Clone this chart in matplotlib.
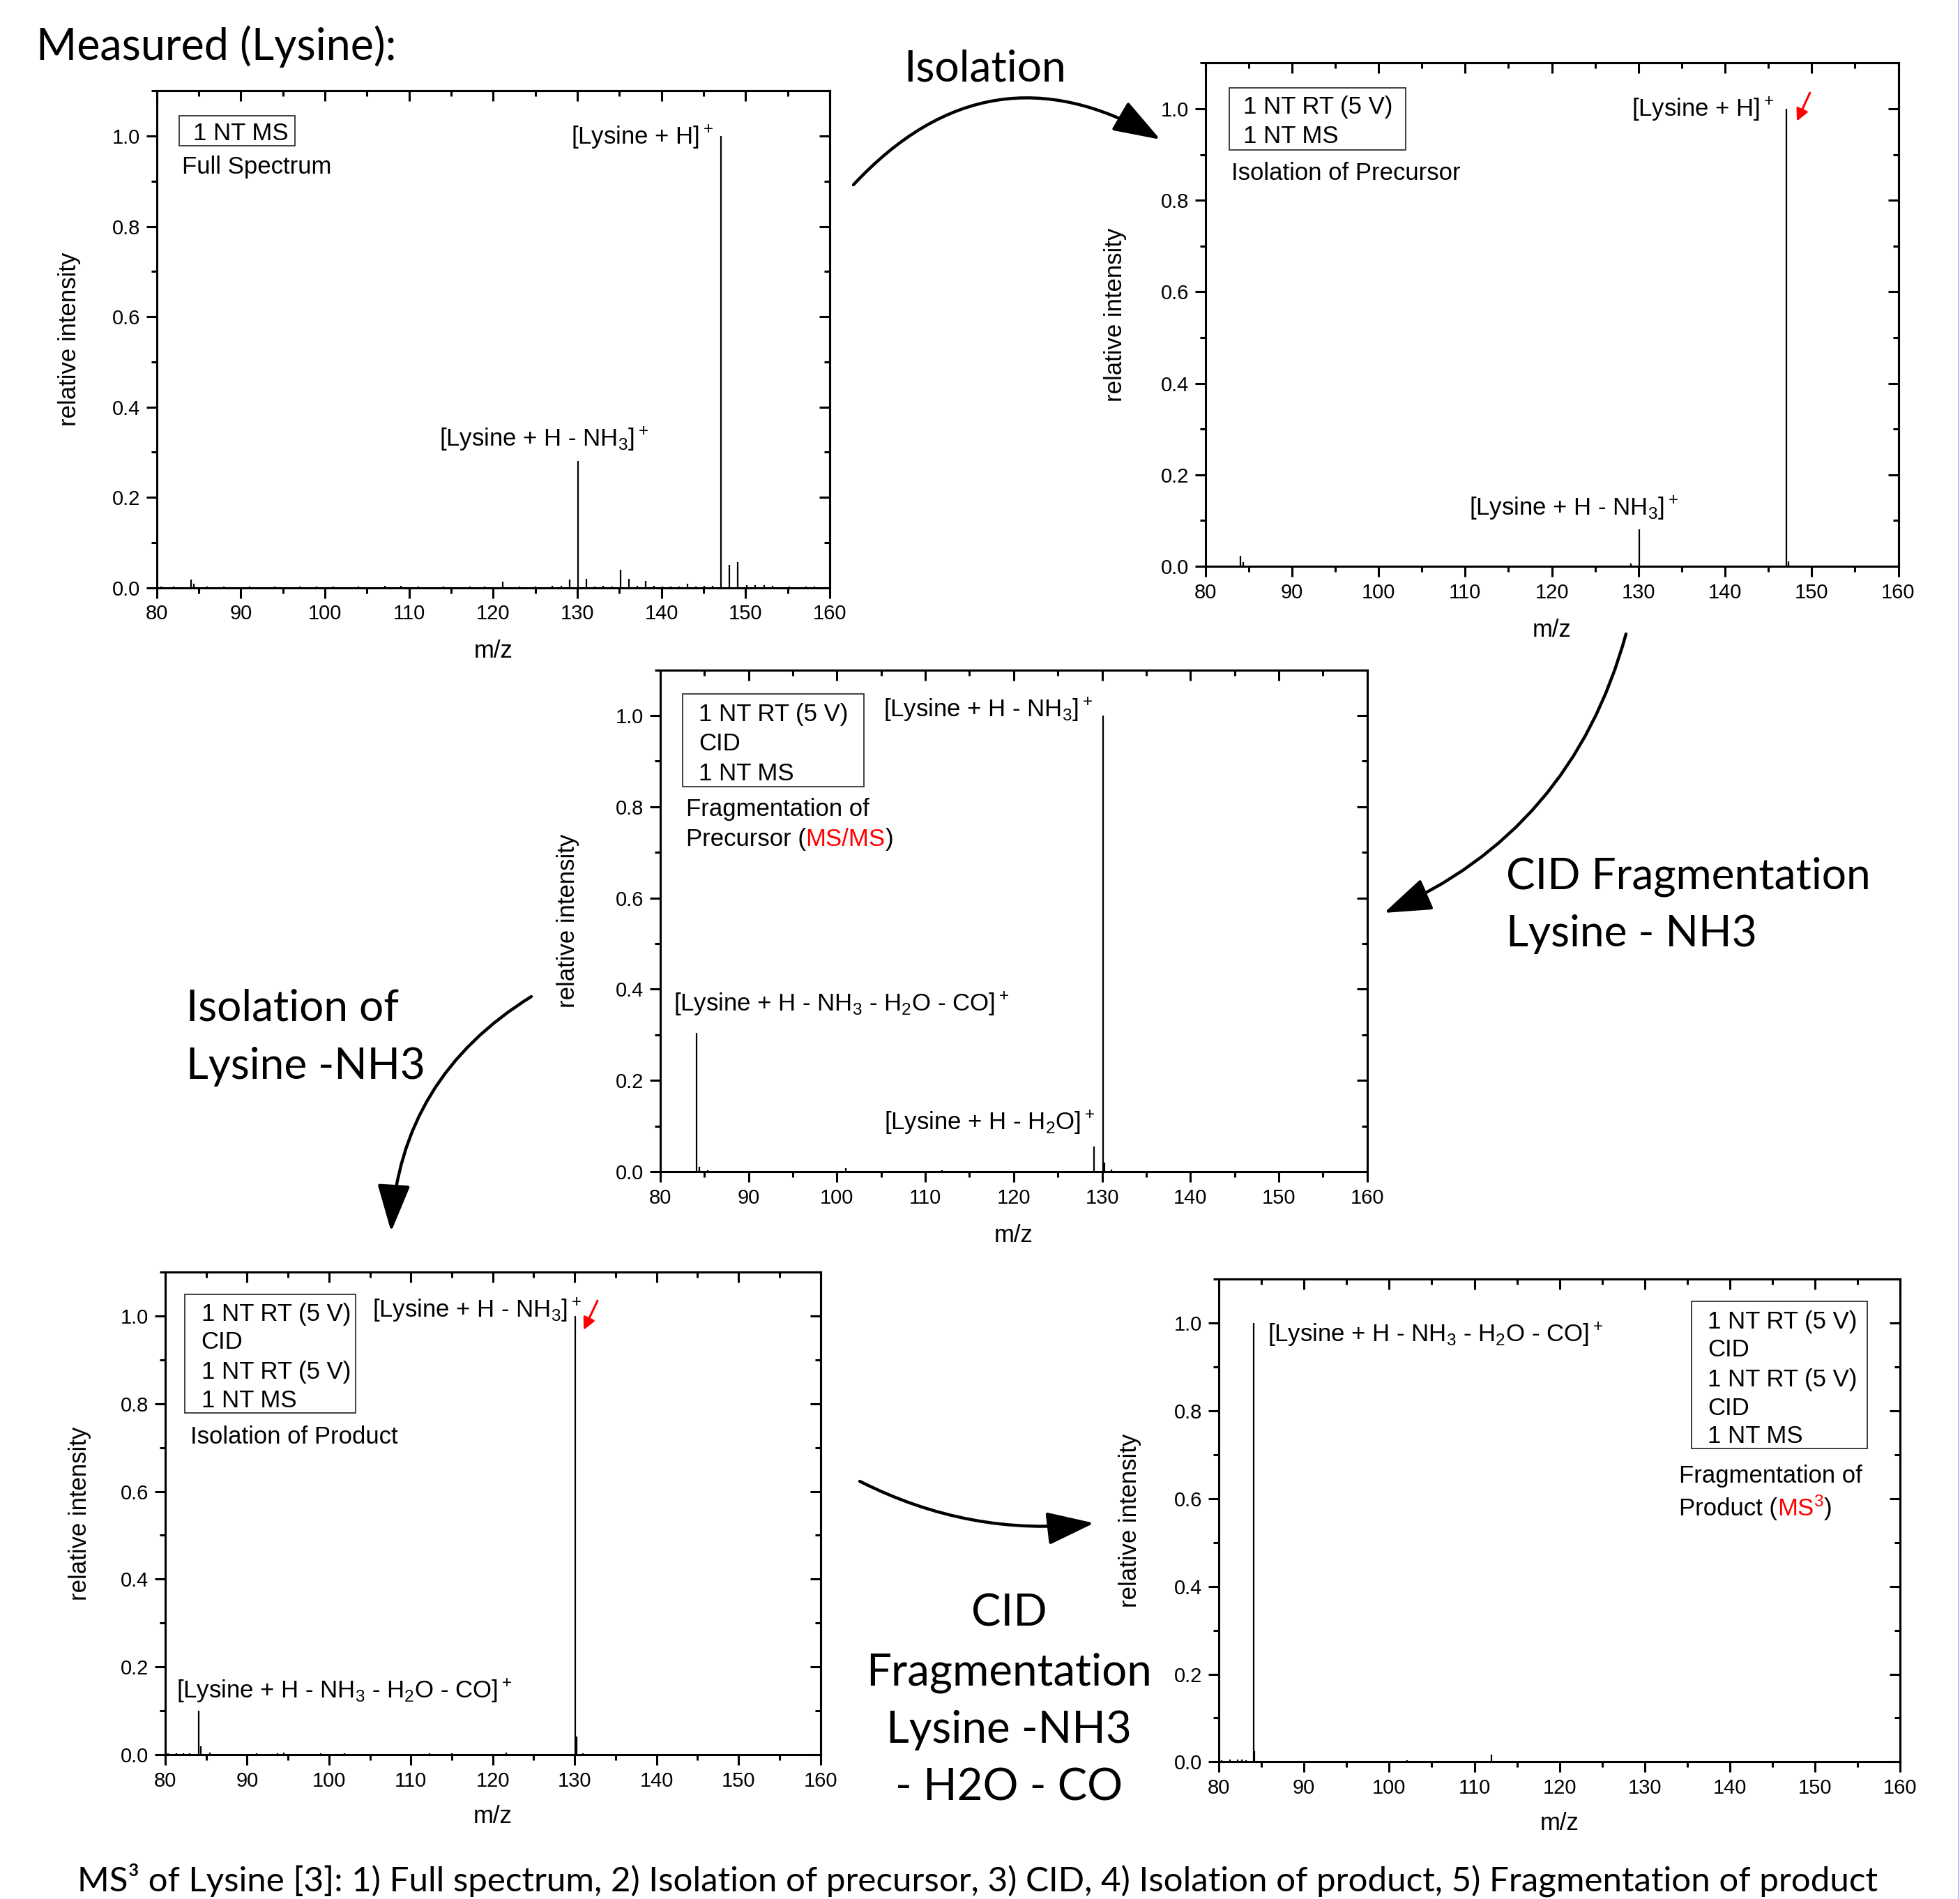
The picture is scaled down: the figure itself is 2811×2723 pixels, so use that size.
import matplotlib
matplotlib.use('Agg')
import matplotlib.pyplot as plt
from matplotlib.patches import Rectangle, FancyArrowPatch
from matplotlib.lines import Line2D
from matplotlib.ticker import MultipleLocator, FormatStrFormatter, NullFormatter

plt.rcParams['font.family'] = ['Liberation Sans', 'DejaVu Sans']
plt.rcParams['mathtext.default'] = 'regular'

# 1) full spectrum
full_mz = [80.5, 82.0, 84.1, 84.4, 86.0, 88.0, 91.0, 94.0, 97.0, 99.0, 101.0, 104.0,
           107.1, 109.0, 111.1, 114.1, 117.2, 119.0, 121.1, 123.1, 125.0, 127.0, 128.1,
           129.1, 130.1, 131.1, 132.1, 133.1, 134.1, 135.1, 136.1, 137.1, 138.1, 139.1,
           140.1, 141.1, 142.1, 143.1, 144.1, 145.1, 146.1, 147.1, 148.1, 149.1, 150.1,
           151.1, 152.2, 153.2, 155.2, 157.2, 158.2]
full_int = [0.002, 0.002, 0.018, 0.008, 0.002, 0.002, 0.002, 0.002, 0.002, 0.003, 0.002, 0.002,
            0.004, 0.004, 0.002, 0.003, 0.002, 0.002, 0.013, 0.002, 0.002, 0.004, 0.004,
            0.018, 0.28, 0.020, 0.003, 0.004, 0.003, 0.039, 0.019, 0.004, 0.015, 0.004,
            0.002, 0.003, 0.002, 0.008, 0.003, 0.004, 0.004, 1.0, 0.050, 0.057, 0.006,
            0.006, 0.006, 0.004, 0.003, 0.003, 0.002]

# 2) isolation of precursor
iso1_mz = [81.0, 82.5, 84.1, 84.4, 86.0, 92.0, 100.3, 102.2, 110.2, 118.0, 129.1, 130.1, 147.1, 147.3]
iso1_int = [0.002, 0.002, 0.023, 0.009, 0.002, 0.001, 0.002, 0.002, 0.002, 0.001, 0.006, 0.080, 1.0, 0.010]

# 3) CID of precursor (MS/MS)
msms_mz = [81.0, 83.0, 84.1, 84.4, 85.4, 92.0, 101.0, 106.0, 111.9, 118.0, 129.1, 130.1, 130.3, 131.1]
msms_int = [0.002, 0.002, 0.305, 0.011, 0.003, 0.001, 0.007, 0.002, 0.003, 0.002, 0.055, 1.0, 0.020, 0.004]

# 4) isolation of product
iso2_mz = [80.4, 81.4, 82.2, 83.0, 84.1, 84.4, 85.5, 88.0, 91.2, 93.7, 94.5, 97.0, 99.0, 101.9,
           104.5, 107.0, 110.1, 112.3, 115.0, 118.0, 121.6, 125.0, 129.5, 130.1, 130.2, 131.0, 132.0]
iso2_int = [0.003, 0.004, 0.003, 0.004, 0.10, 0.019, 0.005, 0.002, 0.004, 0.003, 0.005, 0.002, 0.003, 0.003,
            0.002, 0.002, 0.002, 0.003, 0.004, 0.002, 0.005, 0.002, 0.002, 1.0, 0.042, 0.003, 0.002]

# 5) CID of product (MS3)
ms3_mz = [80.3, 81.3, 82.2, 82.7, 83.2, 84.1, 84.2, 85.0, 85.8, 91.1, 93.1, 97.0, 102.1, 104.4,
          112.0, 113.0, 121.3, 124.0, 147.1]
ms3_int = [0.004, 0.006, 0.005, 0.006, 0.004, 1.0, 0.024, 0.003, 0.002, 0.003, 0.003, 0.002, 0.004, 0.003,
           0.016, 0.003, 0.003, 0.003, 0.003]

H_PLUS = r'[Lysine + H]$^+$'
NH3 = r'[Lysine + H - NH$_3$]$^+$'
H2O = r'[Lysine + H - H$_2$O]$^+$'
FRAG = r'[Lysine + H - NH$_3$ - H$_2$O - CO]$^+$'

W, H = 2811, 2723
fig = plt.figure(figsize=(W / 100, H / 100), dpi=100)
renderer = fig.canvas.get_renderer()

ANN = 25


def panel(left, top, right, bottom, mz, inten):
    ax = fig.add_axes([left / W, 1 - bottom / H, (right - left) / W, (bottom - top) / H])
    ax.vlines(mz, 0, inten, color='k', lw=1.6)
    ax.set_xlim(80, 160)
    ax.set_ylim(0, 1.1)
    ax.xaxis.set_major_locator(MultipleLocator(10))
    ax.xaxis.set_minor_locator(MultipleLocator(5))
    ax.yaxis.set_major_locator(MultipleLocator(0.2))
    ax.yaxis.set_minor_locator(MultipleLocator(0.1))
    ax.yaxis.set_major_formatter(FormatStrFormatter('%.1f'))
    ax.tick_params(which='both', direction='out', width=2.2, labelsize=21, pad=6)
    ax.tick_params(which='major', length=11)
    ax.tick_params(which='minor', length=6)
    for sp in ax.spines.values():
        sp.set_linewidth(2.2)
    # inward ticks on the top and right sides, no labels
    tx = ax.secondary_xaxis('top')
    tx.xaxis.set_major_locator(MultipleLocator(10))
    tx.xaxis.set_minor_locator(MultipleLocator(5))
    tx.xaxis.set_major_formatter(NullFormatter())
    tx.tick_params(which='both', direction='in', width=2.2)
    tx.tick_params(which='major', length=11)
    tx.tick_params(which='minor', length=6)
    tx.spines['top'].set_linewidth(2.2)
    ty = ax.secondary_yaxis('right')
    ty.yaxis.set_major_locator(MultipleLocator(0.2))
    ty.yaxis.set_minor_locator(MultipleLocator(0.1))
    ty.yaxis.set_major_formatter(NullFormatter())
    ty.tick_params(which='both', direction='in', width=2.2)
    ty.tick_params(which='major', length=11)
    ty.tick_params(which='minor', length=6)
    ty.spines['right'].set_linewidth(2.2)
    ax.set_ylabel('relative intensity', fontsize=25, va='center')
    ax.yaxis.set_label_coords(-0.13, 0.5)
    ax.set_xlabel('m/z', fontsize=25, va='center')
    ax.xaxis.set_label_coords(0.5, -0.127)
    return ax


def label(ax, x, y, s, color='k'):
    return ax.text(x, y, s, fontsize=ANN, color=color, va='baseline', ha='left')


def parts(ax, x, y, pieces):
    for s, c in pieces:
        t = label(ax, x, y, s, c)
        bb = t.get_window_extent(renderer)
        x = ax.transData.inverted().transform((bb.x1, bb.y0))[0]


def box(ax, x0, y0, x1, y1):
    ax.add_patch(Rectangle((x0, y0), x1 - x0, y1 - y0, fill=False, ec='#333333', lw=1.3))


def red_arrow(ax, tail, head):
    ax.annotate('', xy=head, xytext=tail,
                arrowprops=dict(arrowstyle='-|>', color='red', lw=2.2, mutation_scale=26,
                                shrinkA=0, shrinkB=0))


# panel 1
ax1 = panel(224.8, 130.4, 1190, 842.6, full_mz, full_int)
box(ax1, 82.71, 0.978, 96.39, 1.0455)
label(ax1, 84.36, 0.991, '1 NT MS')
label(ax1, 82.97, 0.917, 'Full Spectrum')
label(ax1, 129.22, 0.982, H_PLUS)
label(ax1, 113.57, 0.313, NH3)

# panel 2
ax2 = panel(1728.5, 90.4, 2722.5, 811.9, iso1_mz, iso1_int)
box(ax2, 82.79, 0.910, 103.17, 1.0456)
label(ax2, 84.40, 0.9887, '1 NT RT (5 V)')
label(ax2, 84.40, 0.9249, '1 NT MS')
label(ax2, 82.98, 0.8443, 'Isolation of Precursor')
label(ax2, 129.25, 0.9826, H_PLUS)
label(ax2, 110.48, 0.111, NH3)
red_arrow(ax2, (149.8, 1.035), (148.3, 0.973))

# panel 3
ax3 = panel(946.8, 960.6, 1960.8, 1680, msms_mz, msms_int)
box(ax3, 82.54, 0.844, 103.07, 1.047)
label(ax3, 84.35, 0.9875, '1 NT RT (5 V)')
label(ax3, 84.35, 0.923, 'CID')
label(ax3, 84.35, 0.858, '1 NT MS')
label(ax3, 82.9, 0.780, 'Fragmentation of')
parts(ax3, 82.9, 0.7143, [('Precursor (', 'k'), ('MS/MS', 'red'), (')', 'k')])
label(ax3, 105.24, 0.9974, NH3)
label(ax3, 81.52, 0.3517, FRAG)
label(ax3, 105.37, 0.0911, H2O)

# panel 4
ax4 = panel(236.8, 1823.9, 1176.7, 2516.1, iso2_mz, iso2_int)
box(ax4, 82.37, 0.7788, 103.27, 1.0487)
label(ax4, 84.41, 0.9893, '1 NT RT (5 V)')
label(ax4, 84.41, 0.9243, 'CID')
label(ax4, 84.41, 0.8573, '1 NT RT (5 V)')
label(ax4, 84.41, 0.7912, '1 NT MS')
label(ax4, 83.05, 0.7082, 'Isolation of Product')
label(ax4, 105.3, 0.997, NH3)
label(ax4, 81.42, 0.1283, FRAG)
red_arrow(ax4, (132.78, 1.0345), (131.1, 0.968))

# panel 5
ax5 = panel(1748, 1834.1, 2725.4, 2526.4, ms3_mz, ms3_int)
label(ax5, 85.72, 0.9569, FRAG)
box(ax5, 135.52, 0.7135, 156.08, 1.0496)
for yy, s in zip([0.9868, 0.9232, 0.8557, 0.790, 0.7266],
                 ['1 NT RT (5 V)', 'CID', '1 NT RT (5 V)', 'CID', '1 NT MS']):
    label(ax5, 137.38, yy, s)
label(ax5, 134.04, 0.6358, 'Fragmentation of')
parts(ax5, 134.04, 0.5608, [('Product (', 'k'), ('MS$^3$', 'red'), (')', 'k')])


# slide text (pixel positions of the picture)
def ftext(x, y, s, ha='left', size=40):
    return fig.text(x / W, 1 - y / H, s, ha=ha, va='baseline', fontsize=size, family='Lato')


def fit_width(t, target):
    w = t.get_window_extent(renderer).width
    t.set_fontsize(t.get_fontsize() * target / w)
    return t.get_fontsize()


t = ftext(51.8, 85.7, 'Measured (Lysine):')
fit_width(t, 515)
t = ftext(1413, 116.5, 'Isolation', ha='center')
fit_width(t, 233)
t = ftext(2160, 1274.6, 'CID Fragmentation')
fs = fit_width(t, 523)
ftext(2160, 1357, 'Lysine - NH3', size=fs)
t = ftext(267, 1463, 'Isolation of')
fs = fit_width(t, 305)
ftext(267, 1547, 'Lysine -NH3', size=fs)
t = ftext(1447, 2416.6, 'Fragmentation', ha='center')
fs = fit_width(t, 409)
ftext(1447, 2332, 'CID', ha='center', size=fs)
ftext(1447, 2499, 'Lysine -NH3', ha='center', size=fs)
ftext(1447, 2581.5, '- H2O - CO', ha='center', size=fs)
t = ftext(1402, 2712, 'MS³ of Lysine [3]: 1) Full spectrum, 2) Isolation of precursor, '
                      '3) CID, 4) Isolation of product, 5) Fragmentation of product', ha='center')
fit_width(t, 2583)


# curved arrows between the panels
def curved(p0, p1, rad):
    a = FancyArrowPatch((p0[0] / W, 1 - p0[1] / H), (p1[0] / W, 1 - p1[1] / H),
                        transform=fig.transFigure, connectionstyle='arc3,rad=%s' % rad,
                        arrowstyle='-|>,head_length=1.0,head_width=0.35', mutation_scale=42,
                        lw=3.2, color='k', shrinkA=0, shrinkB=0)
    fig.add_artist(a)


curved((1224, 265), (1664, 200), -0.4)
curved((2332, 909), (1985, 1309), -0.24)
curved((762, 1429), (561, 1766), 0.26)
curved((1233, 2124), (1569, 2184), 0.15)

fig.add_artist(Line2D([0.9992, 0.9992], [0, 1], transform=fig.transFigure, color='#c4bcff', lw=1.5))

fig.savefig('out.png', dpi=100)
